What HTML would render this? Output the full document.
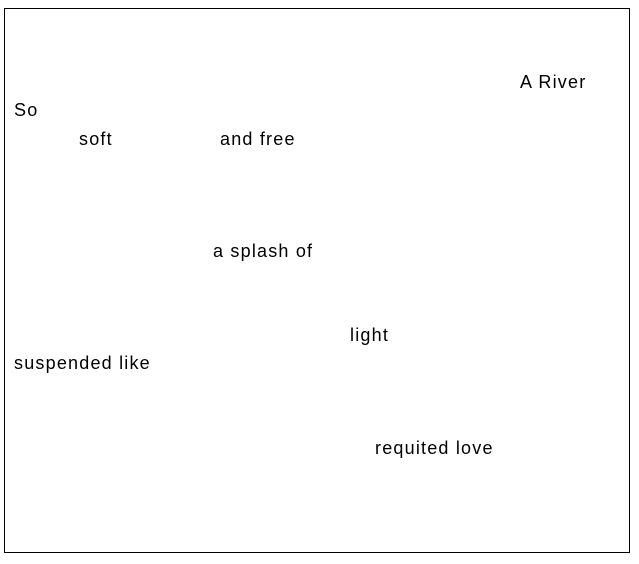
<!DOCTYPE html>
<html><head><style>
html,body{margin:0;padding:0;background:#fff;width:639px;height:564px;overflow:hidden}
.b{position:absolute;left:4px;top:8px;width:624px;height:543px;border:1px solid #000}
.t{position:absolute;font-family:"Liberation Sans",sans-serif;font-size:18px;line-height:18px;letter-spacing:1.2px;color:#000;white-space:nowrap}
</style></head><body>
<div class="b"></div>
<div class="t" style="left:520px;top:73px">A River</div>
<div class="t" style="left:14px;top:101px">So</div>
<div class="t" style="left:79px;top:130px">soft</div>
<div class="t" style="left:220px;top:130px">and free</div>
<div class="t" style="left:213px;top:242px">a splash of</div>
<div class="t" style="left:350px;top:326px">light</div>
<div class="t" style="left:14px;top:354px">suspended like</div>
<div class="t" style="left:375px;top:439px">requited love</div>
</body></html>
